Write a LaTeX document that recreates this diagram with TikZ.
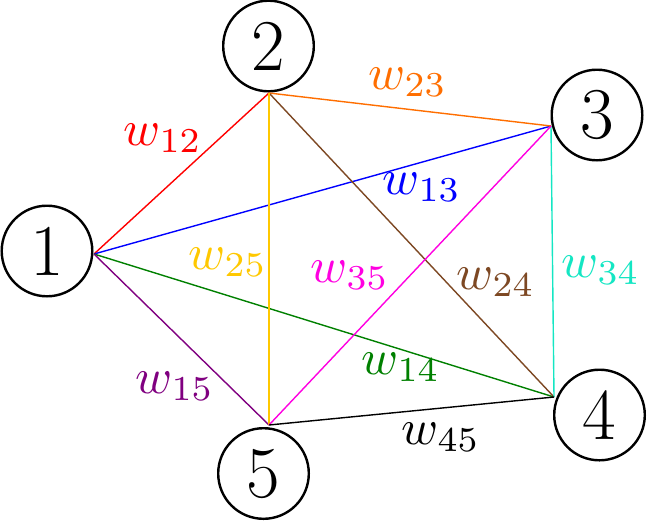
\RequirePackage{fix-cm}
\documentclass[tikz,border=0pt]{standalone}
\usepackage{amsmath}
\usepackage{graphicx}
\usepackage{tikz}
\usepackage{xcolor}

\definecolor{wOrange}{RGB}{255,110,0}
\definecolor{wYellow}{RGB}{255,200,0}
\definecolor{wBrown}{RGB}{125,72,35}
\definecolor{wTurq}{RGB}{20,230,195}
\definecolor{wGreen}{RGB}{0,128,0}
\definecolor{wPurple}{RGB}{128,0,128}
\definecolor{wMagenta}{RGB}{255,0,225}

\newcommand{\wlab}[1]{\scalebox{5}{\(w_{#1}\)}}

\begin{document}
\begin{tikzpicture}[
        x=1pt, y=-1pt,
        vertex/.style={draw, circle, line width=2.4pt, minimum size=90.6pt, inner sep=0pt, font=\fontsize{73}{76}\selectfont},
        weight/.style={inner sep=0pt},
        edge/.style={line width=1.4pt}
    ]
        \useasboundingbox (0,0) rectangle (647,523);

        % meeting points of the edges
        \coordinate (v1) at (94,254);
        \coordinate (v2) at (269,93);
        \coordinate (v3) at (551,126);
        \coordinate (v4) at (554,397);
        \coordinate (v5) at (269,425);

        \node[vertex] (n1) at (47,251) {1};
        \node[vertex] (n2) at (268.5,46) {2};
        \node[vertex] (n3) at (597,115) {3};
        \node[vertex] (n4) at (599.5,415) {4};
        \node[vertex] (n5) at (263.5,473.5) {5};

        \draw[edge, red] (v1) -- (v2);
        \draw[edge, blue] (v1) -- (v3);
        \draw[edge, wGreen] (v1) -- (v4);
        \draw[edge, wPurple] (v1) -- (v5);
        \draw[edge, wOrange] (v2) -- (v3);
        \draw[edge, wBrown] (v2) -- (v4);
        \draw[edge, wYellow] (v2) -- (v5);
        \draw[edge, wTurq] (v3) -- (v4);
        \draw[edge, wMagenta] (v3) -- (v5);
        \draw[edge, black] (v4) -- (v5);

        \node[weight, red] (l12) at (163,138) {\wlab{12}};
        \node[weight, wOrange] (l23) at (408,82) {\wlab{23}};
        \node[weight, blue] (l13) at (422,187) {\wlab{13}};
        \node[weight, wYellow] (l25) at (228,262) {\wlab{25}};
        \node[weight, wMagenta] (l35) at (350,275) {\wlab{35}};
        \node[weight, wBrown] (l24) at (496,282) {\wlab{24}};
        \node[weight, wTurq] (l34) at (601,270) {\wlab{34}};
        \node[weight, wGreen] (l14) at (401,367) {\wlab{14}};
        \node[weight, wPurple] (l15) at (175,386) {\wlab{15}};
        \node[weight, black] (l45) at (441,437) {\wlab{45}};
    \end{tikzpicture}
\end{document}
